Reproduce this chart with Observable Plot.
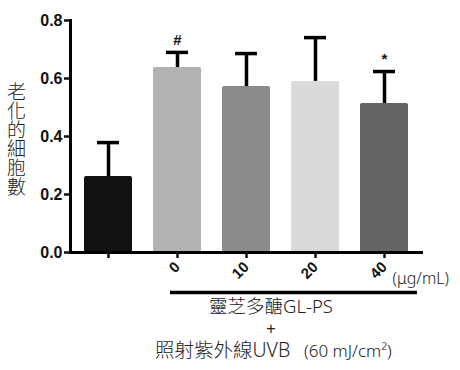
<!DOCTYPE html>
<html>
<head>
<meta charset="utf-8">
<script src="https://cdn.jsdelivr.net/npm/d3@7"></script>
<script src="https://cdn.jsdelivr.net/npm/@observablehq/plot@0.6"></script>
<style>
  html, body { margin: 0; padding: 0; background: #fff; }
  #chart { width: 460px; height: 370px; }
  .vlabel text { writing-mode: vertical-rl; text-orientation: upright; }
</style>
</head>
<body>
<div id="chart"></div>
<script>
// ---- data ----
const groups = ["Control", "0", "10", "20", "40"];
const tickLabels = ["", "0", "10", "20", "40"];
const values = [0.262, 0.638, 0.572, 0.590, 0.514];
const errors = [0.117, 0.052, 0.114, 0.151, 0.110];
const marks = ["", "#", "", "", "*"];
const palette = ["#111111", "#b2b2b4", "#8b8b89", "#dadada", "#656565"];
const yTicks = [0, 0.2, 0.4, 0.6, 0.8];
const yLabel = "老化的細胞數";
const doseUnit = "(μg/mL)";
const line1 = "靈芝多醣GL-PS";
const line2 = "+";
const line3 = "照射紫外線UVB";
const line3b = "(60 mJ/cm²)";

const data = groups.map((g, i) => ({group: g, value: values[i], err: errors[i], mark: marks[i]}));
const cjk = "'Noto Sans CJK TC', 'Noto Sans', sans-serif";
const lat = "'Noto Sans', 'Noto Sans CJK TC', sans-serif";
const num = "'Liberation Sans', Arial, sans-serif";

const chart = Plot.plot({
  width: 460,
  height: 370,
  marginTop: 20,
  marginBottom: 118,
  marginLeft: 70,
  marginRight: 39,
  style: {background: "#fff", fontFamily: num, color: "#111"},
  x: {domain: groups, paddingInner: 0.31, paddingOuter: 0.18, axis: null},
  y: {domain: [0, 0.8], axis: null},
  color: {domain: groups, range: palette},
  marks: [
    Plot.barY(data, {x: "group", y: "value", fill: "group", rx: 2}),
    Plot.ruleX(data, {x: "group", y1: "value", y2: d => d.value + d.err, stroke: "#000", strokeWidth: 3.5}),
    Plot.tickY(data, {x: "group", y: d => d.value + d.err, stroke: "#000", strokeWidth: 3.5, insetLeft: 13, insetRight: 13}),
    Plot.text(data.filter(d => d.mark), {x: "group", y: d => d.value + d.err, text: "mark", dy: -12, fontSize: 15, fontWeight: "bold", fill: "#111"}),
    Plot.frame({anchor: "left", stroke: "#000", strokeWidth: 3}),
    Plot.frame({anchor: "bottom", stroke: "#000", strokeWidth: 3}),
    Plot.axisY({ticks: yTicks, tickFormat: d3.format(".1f"), tickSize: 6, tickPadding: 2, fontSize: 16, fontWeight: "bold", label: null, strokeWidth: 2.5}),
    Plot.axisX({tickFormat: (d) => tickLabels[groups.indexOf(d)], tickRotate: -45, tickSize: 6, tickPadding: 6, fontSize: 15, fontWeight: "bold", label: null, strokeWidth: 2.5}),
    Plot.text([yLabel], {frameAnchor: "left", textAnchor: "middle", dx: -54, dy: -3, fontSize: 19, fontFamily: cjk, fontWeight: 300, fill: "#222", className: "vlabel"}),
    Plot.text([doseUnit], {x: () => "40", y: () => 0, dx: 8, dy: 26, textAnchor: "start", fontSize: 16, fontFamily: lat, fontWeight: 300, fill: "#222"}),
    Plot.ruleY([0], {x1: () => "0", x2: () => "40", dy: 40, insetLeft: 17, insetRight: -9, stroke: "#000", strokeWidth: 3.5}),
    Plot.text([line1], {frameAnchor: "bottom", dx: 25, dy: 60, fontSize: 18.5, fontFamily: lat, fontWeight: 300, fill: "#222"}),
    Plot.text([line2], {frameAnchor: "bottom", dx: 25, dy: 81, fontSize: 16, fontFamily: num, fill: "#222"}),
    Plot.text([line3], {frameAnchor: "bottom", dx: -91, dy: 104, textAnchor: "start", fontSize: 19.5, fontFamily: lat, fontWeight: 300, fill: "#222"}),
    Plot.text([line3b], {frameAnchor: "bottom", dx: 58, dy: 104, textAnchor: "start", fontSize: 17, fontFamily: lat, fontWeight: 300, fill: "#222"})
  ]
});
document.getElementById("chart").appendChild(chart);
</script>
</body>
</html>
